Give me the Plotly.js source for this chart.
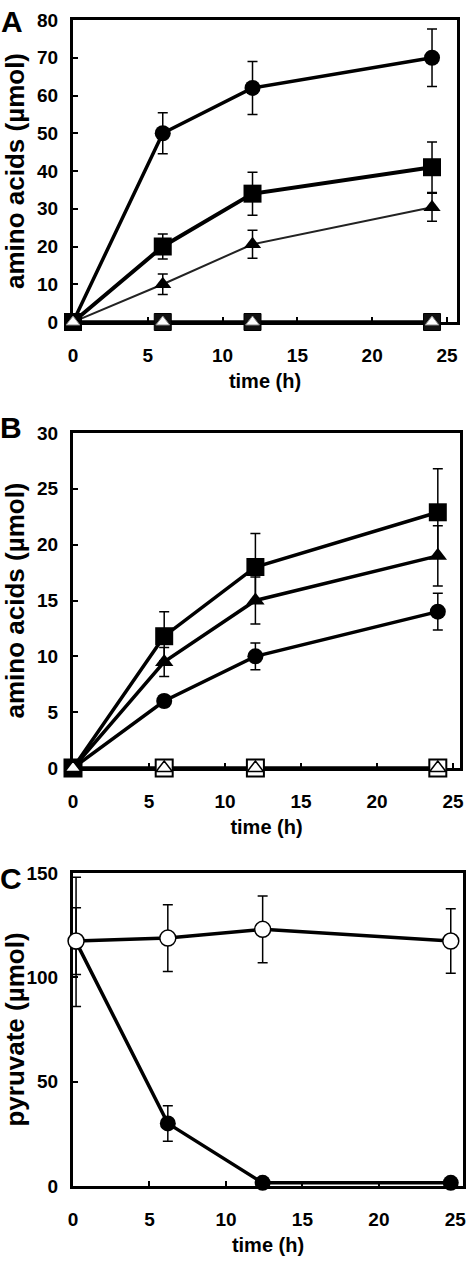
<!DOCTYPE html>
<html>
<head>
<meta charset="utf-8">
<script src="https://cdn.plot.ly/plotly-3.0.1.min.js"></script>
<style>html,body{margin:0;padding:0;background:#fff;}#chart{width:466px;height:1261px;}</style>
</head>
<body>
<div id="chart"></div>
<script>
// ---------- Data ----------
// Panel A
var timeA = [0, 6, 12, 24];
var A_circle = [0, 50, 62, 70];
var A_circle_err = [0, 5.4, 7, 7.6];
var A_square = [0, 20, 34, 41];
var A_square_err = [0, 3.3, 5.7, 6.7];
var A_triangle = [0, 10, 20.6, 30.4];
var A_triangle_err = [0, 2.7, 3.7, 3.7];
var A_openSquare = [0, 0, 0, 0];
var A_openTriangle = [0, 0, 0, 0];

// Panel B
var timeB = [0, 6, 12, 24];
var B_square = [0, 11.8, 18, 22.9];
var B_square_err = [0, 2.2, 3, 3.9];
var B_triangle = [0, 9.5, 15, 19];
var B_triangle_err = [0, 1.3, 2.1, 2.7];
var B_circle = [0, 6, 10, 14];
var B_circle_err = [0, 0.5, 1.2, 1.65];
var B_openSquare = [0, 0, 0, 0];
var B_openTriangle = [0, 0, 0, 0];

// Panel C
var timeC = [0.2, 6.2, 12.4, 24.7];
var C_open = [117.4, 118.8, 123, 117.4];
var C_open_err = [16, 16, 16, 15.5];
var C_filled = [117, 30, 1.5, 1.5];
var C_filled_err = [31, 8.5, 0, 0];

var xTicks = [0, 5, 10, 15, 20, 25];
var yTicksA = [0, 10, 20, 30, 40, 50, 60, 70, 80];
var yTicksB = [0, 5, 10, 15, 20, 25, 30];
var yTicksC = [0, 50, 100, 150];

// ---------- Layout helpers ----------
var W = 466, H = 1261;
function xd(l, r) { return [l / W, r / W]; }
function yd(top, bottom) { return [1 - bottom / H, 1 - top / H]; }
var FONT = 'Liberation Sans, Arial, Helvetica, sans-serif';

function err(arr) {
  return {type: 'data', array: arr, visible: true, color: '#000', thickness: 1.5, width: 5};
}
function tr(x, y, e, xa, ya, sym, size, mcolor, mline, lwidth, lcolor) {
  var t = {
    x: x, y: y, xaxis: xa, yaxis: ya, type: 'scatter', mode: 'lines+markers',
    cliponaxis: false, hoverinfo: 'none',
    line: {color: lcolor || '#000', width: lwidth},
    marker: {symbol: sym, size: size, color: mcolor, line: mline}
  };
  if (e) t.error_y = err(e);
  return t;
}

var traces = [
  // Panel A
  tr(timeA, A_openSquare, null, 'x', 'y', 'square', 17, '#111', {color: '#000', width: 1}, 3.5),
  tr(timeA, A_triangle, A_triangle_err, 'x', 'y', 'triangle-up', 15, '#000', {color: '#000', width: 0}, 2, '#222'),
  tr(timeA, A_square, A_square_err, 'x', 'y', 'square', 18, '#000', {color: '#000', width: 0}, 4),
  tr(timeA, A_circle, A_circle_err, 'x', 'y', 'circle', 16, '#000', {color: '#000', width: 0}, 3.5),
  tr(timeA, A_openTriangle, null, 'x', 'y', 'triangle-up', 12, '#fff', {color: '#888', width: 1}, 0.1),
  // Panel B
  tr(timeB, B_openSquare, null, 'x2', 'y2', 'square', 17, '#fff', {color: '#000', width: 2}, 3.5),
  tr(timeB, B_circle, B_circle_err, 'x2', 'y2', 'circle', 16, '#000', {color: '#000', width: 0}, 3.5),
  tr(timeB, B_triangle, B_triangle_err, 'x2', 'y2', 'triangle-up', 16, '#000', {color: '#000', width: 0}, 3.5),
  tr(timeB, B_square, B_square_err, 'x2', 'y2', 'square', 18, '#000', {color: '#000', width: 0}, 3.5),
  tr(timeB, B_openTriangle, null, 'x2', 'y2', 'triangle-up', 14, '#fff', {color: '#000', width: 1.5}, 0.1),
  // Panel C
  tr(timeC, C_filled, C_filled_err, 'x3', 'y3', 'circle', 16, '#000', {color: '#000', width: 0}, 3.5),
  tr(timeC, C_open, C_open_err, 'x3', 'y3', 'circle', 16, '#fff', {color: '#000', width: 1.5}, 3.5)
];

function xaxis(dom, rmax, anchor) {
  return {
    domain: dom, range: [0, rmax], anchor: anchor,
    tickmode: 'array', tickvals: xTicks, ticktext: xTicks.map(String),
    showline: true, linecolor: '#000', linewidth: 3, mirror: true,
    ticks: 'inside', ticklen: 5, tickwidth: 2, tickcolor: '#000',
    showgrid: false, zeroline: false, layer: 'below traces',
    ticklabelstandoff: 14, ticklabeloverflow: 'allow',
    tickfont: {family: FONT, size: 19, color: '#000', weight: 'bold'},
    title: {text: 'time (h)', standoff: 10, font: {family: FONT, size: 20, color: '#000', weight: 'bold'}}
  };
}
function yaxis(dom, rmax, ticks, title, anchor) {
  return {
    domain: dom, range: [0, rmax], anchor: anchor,
    tickmode: 'array', tickvals: ticks, ticktext: ticks.map(String),
    showline: true, linecolor: '#000', linewidth: 3, mirror: true,
    ticks: 'inside', ticklen: 5, tickwidth: 2, tickcolor: '#000',
    showgrid: false, zeroline: false, layer: 'below traces',
    ticklabelstandoff: 8, ticklabeloverflow: 'allow',
    tickfont: {family: FONT, size: 19, color: '#000', weight: 'bold'},
    title: {text: title, standoff: 6, font: {family: FONT, size: 26, color: '#000', weight: 'bold'}}
  };
}

var layout = {
  width: W, height: H,
  margin: {l: 0, r: 0, t: 0, b: 0},
  paper_bgcolor: '#fff', plot_bgcolor: '#fff',
  showlegend: false,
  xaxis: xaxis(xd(73, 457), 25.67, 'y'),
  yaxis: yaxis(yd(20, 322), 80, yTicksA, 'amino acids (µmol)', 'x'),
  xaxis2: xaxis(xd(73, 460), 25.46, 'y2'),
  yaxis2: yaxis(yd(433, 768), 30, yTicksB, 'amino acids (µmol)', 'x2'),
  xaxis3: xaxis(xd(73, 463), 25.5, 'y3'),
  yaxis3: yaxis(yd(873, 1186), 150, yTicksC, 'pyruvate (µmol)', 'x3'),
  annotations: [
    {text: 'A', x: 12 / W, y: 1 - 3 / H},
    {text: 'B', x: 11 / W, y: 1 - 409 / H},
    {text: 'C', x: 11 / W, y: 1 - 860 / H}
  ].map(function (a) {
    return Object.assign(a, {xref: 'paper', yref: 'paper', xanchor: 'center', yanchor: 'top',
      showarrow: false, font: {family: FONT, size: 30, color: '#000', weight: 'bold'}});
  })
};

Plotly.newPlot('chart', traces, layout, {displayModeBar: false, staticPlot: true});
</script>
</body>
</html>
